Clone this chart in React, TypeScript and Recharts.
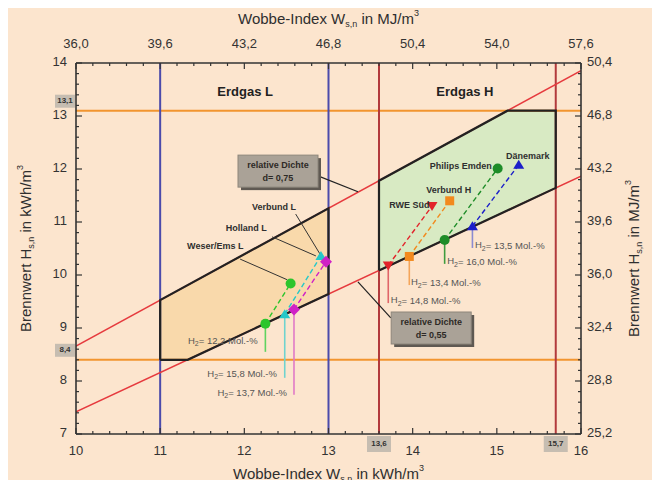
import {
  ComposedChart,
  XAxis,
  YAxis,
  Line,
  Area,
  Scatter,
  ReferenceLine,
  ReferenceDot,
  Label,
} from "recharts";

const FONT = '"Liberation Sans", Arial, sans-serif';
const BG = "#fce5ce";
const AXIS = "#333";

// Grenzwerte
const hsLimits = [8.4, 13.1];
const wobbeL = [11, 13];
const wobbeH = [13.6, 15.7];
const densities = [0.75, 0.55];

// Achsen (kWh/m³; MJ/m³ = kWh/m³ * 3,6)
const MJ_PER_KWH = 3.6;
const steps = (a: number, b: number, s: number) =>
  Array.from({ length: Math.round((b - a) / s) + 1 }, (_, i) => +(a + i * s).toFixed(2));
const wobbeTicks = steps(10, 16, 0.2);
const hsTicks = steps(7, 14, 0.2);

// Erdgase und ihre H2-Mischungen
const gasNames = ["Weser/Ems L", "Holland  L", "Verbund L", "RWE Süd", "Verbund H", "Philips Emden", "Dänemark"];
const gasWobbe = [12.55, 12.91, 12.97, 14.23, 14.44, 15.01, 15.26];
const gasHs = [9.84, 10.36, 10.25, 11.3, 11.4, 12.01, 12.08];
const mixWobbe = [12.25, 12.48, 12.59, 13.71, 13.96, 14.38, 14.71];
const mixHs = [9.08, 9.26, 9.35, 10.18, 10.35, 10.66, 10.92];
const h2Share = ["12,2", "15,8", "13,7", "14,8", "13,4", "16,0", "13,5"];

// Darstellung
const gasColors = ["#2cc52c", "#26c8c8", "#d021c6", "#e2242b", "#f28a1e", "#1d8c28", "#1c1fc9"];
const stemColors = ["#5fd35f", "#6fd3cf", "#e07ac6", "#e0666a", "#f4a55a", "#3f9c3f", "#8b8bd0"];
const gasMarkers = ["circle", "triUp", "diamond", "triDown", "square", "circle", "triUp"];

const nameLabelPos = [
  { x: 11.32, y: 10.53, anchor: "start" },
  { x: 11.78, y: 10.87, anchor: "start" },
  { x: 12.09, y: 11.28, anchor: "start" },
  { x: 14.2, y: 11.3, anchor: "end" },
  { x: 14.43, y: 11.6, anchor: "middle" },
  { x: 14.94, y: 12.04, anchor: "end" },
  { x: 15.11, y: 12.23, anchor: "start" },
];
const nameLeaders = [
  [{ x: 11.95, y: 10.3 }, { x: 12.51, y: 9.91 }],
  [{ x: 12.33, y: 10.72 }, { x: 12.85, y: 10.36 }],
  [{ x: 12.61, y: 11.15 }, { x: 12.92, y: 10.34 }],
];
const h2LabelPos = [
  { x: 11.33, y: 8.755 },
  { x: 11.56, y: 8.13 },
  { x: 11.68, y: 7.77 },
  { x: 13.74, y: 9.51 },
  { x: 13.98, y: 9.85 },
  { x: 14.41, y: 10.25 },
  { x: 14.74, y: 10.55 },
];
const stemEnds = [8.55, 8.06, 7.74, 9.47, 9.81, 10.21, 10.51];

const isMajor = (v: number) => Math.abs(v - Math.round(v)) < 1e-6;
const comma = (v: number) => v.toFixed(1).replace(".", ",");
const mj = (v: number) => comma(v * MJ_PER_KWH);

// Linien gleicher relativer Dichte: Hs = W * sqrt(d)
const up = Math.sqrt(densities[0]);
const lo = Math.sqrt(densities[1]);
const densityLine = (k: number) => [
  { x: 10, y: 10 * k },
  { x: 16, y: 16 * k },
];

// Erdgas L
const cutL = hsLimits[0] / lo;
const polyL = [
  { x: wobbeL[0], y: hsLimits[0] },
  { x: wobbeL[0], y: wobbeL[0] * up },
  { x: wobbeL[1], y: wobbeL[1] * up },
  { x: wobbeL[1], y: wobbeL[1] * lo },
  { x: cutL, y: hsLimits[0] },
  { x: wobbeL[0], y: hsLimits[0] },
];
const fillL = [
  { x: wobbeL[0], r: [hsLimits[0], wobbeL[0] * up] },
  { x: cutL, r: [hsLimits[0], cutL * up] },
  { x: wobbeL[1], r: [wobbeL[1] * lo, wobbeL[1] * up] },
];

// Erdgas H
const cutH = hsLimits[1] / up;
const polyH = [
  { x: wobbeH[0], y: wobbeH[0] * lo },
  { x: wobbeH[0], y: wobbeH[0] * up },
  { x: cutH, y: hsLimits[1] },
  { x: wobbeH[1], y: hsLimits[1] },
  { x: wobbeH[1], y: wobbeH[1] * lo },
  { x: wobbeH[0], y: wobbeH[0] * lo },
];
const fillH = [
  { x: wobbeH[0], r: [wobbeH[0] * lo, wobbeH[0] * up] },
  { x: cutH, r: [cutH * lo, hsLimits[1]] },
  { x: wobbeH[1], r: [wobbeH[1] * lo, hsLimits[1]] },
];

// Teilstriche nach innen, Haupt- mit Beschriftung
function AxisTick({ x, y, payload, side }: any) {
  const v = payload.value;
  const major = isMajor(v);
  const len = major ? 6 : 3;
  const text = side === "bottom" || side === "left" ? String(Math.round(v)) : mj(v);
  const dx = side === "left" ? len : side === "right" ? -len : 0;
  const dy = side === "bottom" ? -len : side === "top" ? len : 0;
  let label = null;
  if (major) {
    if (side === "bottom")
      label = <text x={x} y={y + 18} textAnchor="middle" dominantBaseline="middle" fontSize={13} fill="#333">{text}</text>;
    if (side === "top")
      label = <text x={x} y={y - 18} textAnchor="middle" dominantBaseline="middle" fontSize={13} fill="#333">{text}</text>;
    if (side === "left")
      label = <text x={x - 9} y={y} textAnchor="end" dominantBaseline="middle" fontSize={13} fill="#333">{text}</text>;
    if (side === "right")
      label = <text x={x + 6} y={y} textAnchor="start" dominantBaseline="middle" fontSize={13} fill="#333">{text}</text>;
  }
  return (
    <g>
      <line x1={x} y1={y} x2={x + dx} y2={y + dy} stroke={AXIS} strokeWidth={1.2} />
      {label}
    </g>
  );
}

function AxisTitle({ x, y, rotate, main, unit }: any) {
  return (
    <text
      x={x}
      y={y}
      textAnchor="middle"
      dominantBaseline="middle"
      transform={rotate ? `rotate(-90 ${x} ${y})` : undefined}
      fontSize={15}
      fill="#2f2f2f"
    >
      {main}
      <tspan dy={5} fontSize={9}>s,n</tspan>
      <tspan dy={-5}> in {unit}</tspan>
      <tspan dy={-6} fontSize={9}>3</tspan>
    </text>
  );
}

// Achsenlinie an der Innenkante + Titel
function AxisDeco({ viewBox, side, main, unit }: any) {
  const { x, y, width, height } = viewBox;
  if (side === "bottom")
    return (
      <g>
        <line x1={x} y1={y} x2={x + width} y2={y} stroke={AXIS} strokeWidth={1.6} />
        <AxisTitle x={x + width / 2} y={y + 41} main={main} unit={unit} />
      </g>
    );
  if (side === "top")
    return (
      <g>
        <line x1={x} y1={y + height} x2={x + width} y2={y + height} stroke={AXIS} strokeWidth={1.6} />
        <AxisTitle x={x + width / 2} y={y + 20} main={main} unit={unit} />
      </g>
    );
  if (side === "left")
    return (
      <g>
        <line x1={x + width} y1={y} x2={x + width} y2={y + height} stroke={AXIS} strokeWidth={1.6} />
        <AxisTitle x={x + 27} y={y + height / 2} rotate main={main} unit={unit} />
      </g>
    );
  return (
    <g>
      <line x1={x} y1={y} x2={x} y2={y + height} stroke={AXIS} strokeWidth={1.6} />
      <AxisTitle x={x + 54} y={y + height / 2 + 10} rotate main={main} unit={unit} />
    </g>
  );
}

function Marker({ cx, cy, kind, color }: any) {
  const s = 5.5;
  if (kind === "circle") return <circle cx={cx} cy={cy} r={5} fill={color} />;
  if (kind === "square") return <rect x={cx - 4.5} y={cy - 4.5} width={9} height={9} fill={color} />;
  if (kind === "diamond")
    return <path d={`M${cx},${cy - 6}L${cx + 6},${cy}L${cx},${cy + 6}L${cx - 6},${cy}Z`} fill={color} />;
  if (kind === "triDown")
    return <path d={`M${cx - s},${cy - 4}L${cx + s},${cy - 4}L${cx},${cy + 5}Z`} fill={color} />;
  return <path d={`M${cx - s},${cy + 4}L${cx + s},${cy + 4}L${cx},${cy - 5}Z`} fill={color} />;
}

function DensityBox({ cx, cy, d }: any) {
  return (
    <g>
      <rect x={cx - 37} y={cy - 13} width={80} height={32} fill="#5f5952" />
      <rect x={cx - 40} y={cy - 16} width={80} height={32} fill="#aaa297" stroke="#8d867b" />
      <text x={cx} y={cy - 3} textAnchor="middle" fontSize={9} fontWeight="bold" fill="#2e2a26">
        relative Dichte
      </text>
      <text x={cx} y={cy + 10} textAnchor="middle" fontSize={9} fontWeight="bold" fill="#2e2a26">
        d= {d.toFixed(2).replace(".", ",")}
      </text>
    </g>
  );
}

function ValueBox({ cx, cy, text, side }: any) {
  const x = side === "left" ? cx - 21 : cx - 12;
  const y = side === "left" ? cy - 16 : cy + 2;
  const w = side === "left" ? 20 : 24;
  const h = side === "left" ? 13 : 16;
  return (
    <g>
      <rect x={x} y={y} width={w} height={h} fill="#c6bdb1" />
      <text x={x + w / 2} y={y + h / 2} textAnchor="middle" dominantBaseline="middle" fontSize={8} fontWeight="bold" fill="#333">
        {text}
      </text>
    </g>
  );
}

function H2Label({ cx, cy, share }: any) {
  return (
    <text x={cx} y={cy} dominantBaseline="middle" fontSize={9.5} fill="#555">
      H<tspan dy={3} fontSize={7}>2</tspan>
      <tspan dy={-3}>= {share} Mol.-%</tspan>
    </text>
  );
}

const gasIdx = gasNames.map((_, i) => i);

export default function App() {
  return (
    <div style={{ margin: -8, width: 660, height: 488, background: BG, fontFamily: FONT }}>
      <ComposedChart width={660} height={488} margin={{ top: 0, right: 0, bottom: 0, left: 0 }}>
        <XAxis
          type="number"
          dataKey="x"
          domain={[10, 16]}
          allowDataOverflow
          ticks={wobbeTicks}
          interval={0}
          height={54}
          axisLine={false}
          tickLine={false}
          tickSize={0}
          tickMargin={0}
          tick={(p: any) => <AxisTick {...p} side="bottom" />}
        >
          <Label content={(p: any) => <AxisDeco viewBox={p.viewBox} side="bottom" main="Wobbe-Index W" unit="kWh/m" />} />
        </XAxis>
        <XAxis
          xAxisId="top"
          orientation="top"
          type="number"
          dataKey="x"
          domain={[10, 16]}
          allowDataOverflow
          ticks={wobbeTicks}
          interval={0}
          height={63}
          axisLine={false}
          tickLine={false}
          tickSize={0}
          tickMargin={0}
          tick={(p: any) => <AxisTick {...p} side="top" />}
        >
          <Label content={(p: any) => <AxisDeco viewBox={p.viewBox} side="top" main="Wobbe-Index W" unit="MJ/m" />} />
        </XAxis>
        <YAxis
          type="number"
          dataKey="y"
          domain={[7, 14]}
          allowDataOverflow
          ticks={hsTicks}
          interval={0}
          width={76}
          axisLine={false}
          tickLine={false}
          tickSize={0}
          tickMargin={0}
          tick={(p: any) => <AxisTick {...p} side="left" />}
        >
          <Label content={(p: any) => <AxisDeco viewBox={p.viewBox} side="left" main="Brennwert H" unit="kWh/m" />} />
        </YAxis>
        <YAxis
          yAxisId="right"
          orientation="right"
          type="number"
          dataKey="y"
          domain={[7, 14]}
          allowDataOverflow
          ticks={hsTicks}
          interval={0}
          width={79}
          axisLine={false}
          tickLine={false}
          tickSize={0}
          tickMargin={0}
          tick={(p: any) => <AxisTick {...p} side="right" />}
        >
          <Label content={(p: any) => <AxisDeco viewBox={p.viewBox} side="right" main="Brennwert H" unit="MJ/m" />} />
        </YAxis>

        {/* Gasfamilien */}
        <Area data={fillL} dataKey="r" type="linear" stroke="none" fill="#f9d9ab" fillOpacity={1} dot={false} activeDot={false} isAnimationActive={false} />
        <Area data={fillH} dataKey="r" type="linear" stroke="none" fill="#d8eac3" fillOpacity={1} dot={false} activeDot={false} isAnimationActive={false} />

        {hsLimits.map((h) => (
          <ReferenceLine key={`h${h}`} y={h} stroke="#f2952f" strokeWidth={2} />
        ))}
        {wobbeL.map((w) => (
          <ReferenceLine key={`l${w}`} x={w} stroke="#4b4bab" strokeWidth={2} />
        ))}
        {wobbeH.map((w) => (
          <ReferenceLine key={`hw${w}`} x={w} stroke="#b23a3c" strokeWidth={2} />
        ))}

        <Line data={densityLine(up)} xAxisId="top" yAxisId="right" dataKey="y" type="linear" stroke="#e63a3e" strokeWidth={1.5} dot={false} activeDot={false} isAnimationActive={false} />
        <Line data={densityLine(lo)} dataKey="y" type="linear" stroke="#e63a3e" strokeWidth={1.5} dot={false} activeDot={false} isAnimationActive={false} />

        <Line data={polyL} dataKey="y" type="linear" stroke="#222" strokeWidth={2.2} dot={false} activeDot={false} isAnimationActive={false} />
        <Line data={polyH} dataKey="y" type="linear" stroke="#222" strokeWidth={2.2} dot={false} activeDot={false} isAnimationActive={false} />

        {/* Hinweislinien */}
        <ReferenceLine segment={[{ x: 12.875, y: 11.87 }, { x: 13.35, y: 11.57 }]} stroke="#222" strokeWidth={1.2} />
        <ReferenceLine segment={[{ x: 13.35, y: 9.87 }, { x: 13.74, y: 9.19 }]} stroke="#222" strokeWidth={1.2} />
        {nameLeaders.map((seg, i) => (
          <ReferenceLine key={`nl${i}`} segment={seg} stroke="#333" strokeWidth={1} />
        ))}

        {/* Erdgas -> Erdgas + H2 */}
        {gasIdx.map((i) => (
          <Line
            key={`dash${i}`}
            data={[
              { x: mixWobbe[i], y: mixHs[i] },
              { x: gasWobbe[i], y: gasHs[i] },
            ]}
            dataKey="y"
            type="linear"
            stroke={gasColors[i]}
            strokeWidth={1.4}
            strokeDasharray="5 3"
            dot={false}
            activeDot={false}
            isAnimationActive={false}
          />
        ))}
        {gasIdx.map((i) => (
          <ReferenceLine
            key={`stem${i}`}
            segment={[
              { x: mixWobbe[i], y: mixHs[i] },
              { x: mixWobbe[i], y: stemEnds[i] },
            ]}
            stroke={stemColors[i]}
            strokeWidth={1.6}
          />
        ))}
        {gasIdx.map((i) => (
          <Scatter
            key={`pt${i}`}
            data={[
              { x: mixWobbe[i], y: mixHs[i] },
              { x: gasWobbe[i], y: gasHs[i] },
            ]}
            dataKey="y"
            shape={(p: any) => <Marker cx={p.cx} cy={p.cy} kind={gasMarkers[i]} color={gasColors[i]} />}
            isAnimationActive={false}
          />
        ))}

        {/* Beschriftungen */}
        {gasIdx.map((i) => (
          <ReferenceDot
            key={`name${i}`}
            x={nameLabelPos[i].x}
            y={nameLabelPos[i].y}
            r={0}
            shape={(p: any) => (
              <text x={p.cx} y={p.cy} textAnchor={nameLabelPos[i].anchor} dominantBaseline="middle" fontSize={9} fontWeight="bold" fill="#2f2f2f">
                {gasNames[i]}
              </text>
            )}
          />
        ))}
        {gasIdx.map((i) => (
          <ReferenceDot
            key={`h2${i}`}
            x={h2LabelPos[i].x}
            y={h2LabelPos[i].y}
            r={0}
            shape={(p: any) => <H2Label cx={p.cx} cy={p.cy} share={h2Share[i]} />}
          />
        ))}
        <ReferenceDot
          x={12.01}
          y={13.45}
          r={0}
          shape={(p: any) => (
            <text x={p.cx} y={p.cy} textAnchor="middle" dominantBaseline="middle" fontSize={13} fontWeight="bold" fill="#222">
              Erdgas L
            </text>
          )}
        />
        <ReferenceDot
          x={14.62}
          y={13.45}
          r={0}
          shape={(p: any) => (
            <text x={p.cx} y={p.cy} textAnchor="middle" dominantBaseline="middle" fontSize={13} fontWeight="bold" fill="#222">
              Erdgas H
            </text>
          )}
        />
        <ReferenceDot x={12.4} y={11.96} r={0} shape={(p: any) => <DensityBox cx={p.cx} cy={p.cy} d={densities[0]} />} />
        <ReferenceDot x={14.22} y={9.0} r={0} shape={(p: any) => <DensityBox cx={p.cx} cy={p.cy} d={densities[1]} />} />

        {hsLimits.map((h) => (
          <ReferenceDot key={`vb${h}`} x={10} y={h} r={0} shape={(p: any) => <ValueBox cx={p.cx} cy={p.cy} text={comma(h)} side="left" />} />
        ))}
        {wobbeH.map((w) => (
          <ReferenceDot key={`wb${w}`} x={w} y={7} r={0} shape={(p: any) => <ValueBox cx={p.cx} cy={p.cy} text={comma(w)} side="bottom" />} />
        ))}
      </ComposedChart>
    </div>
  );
}
